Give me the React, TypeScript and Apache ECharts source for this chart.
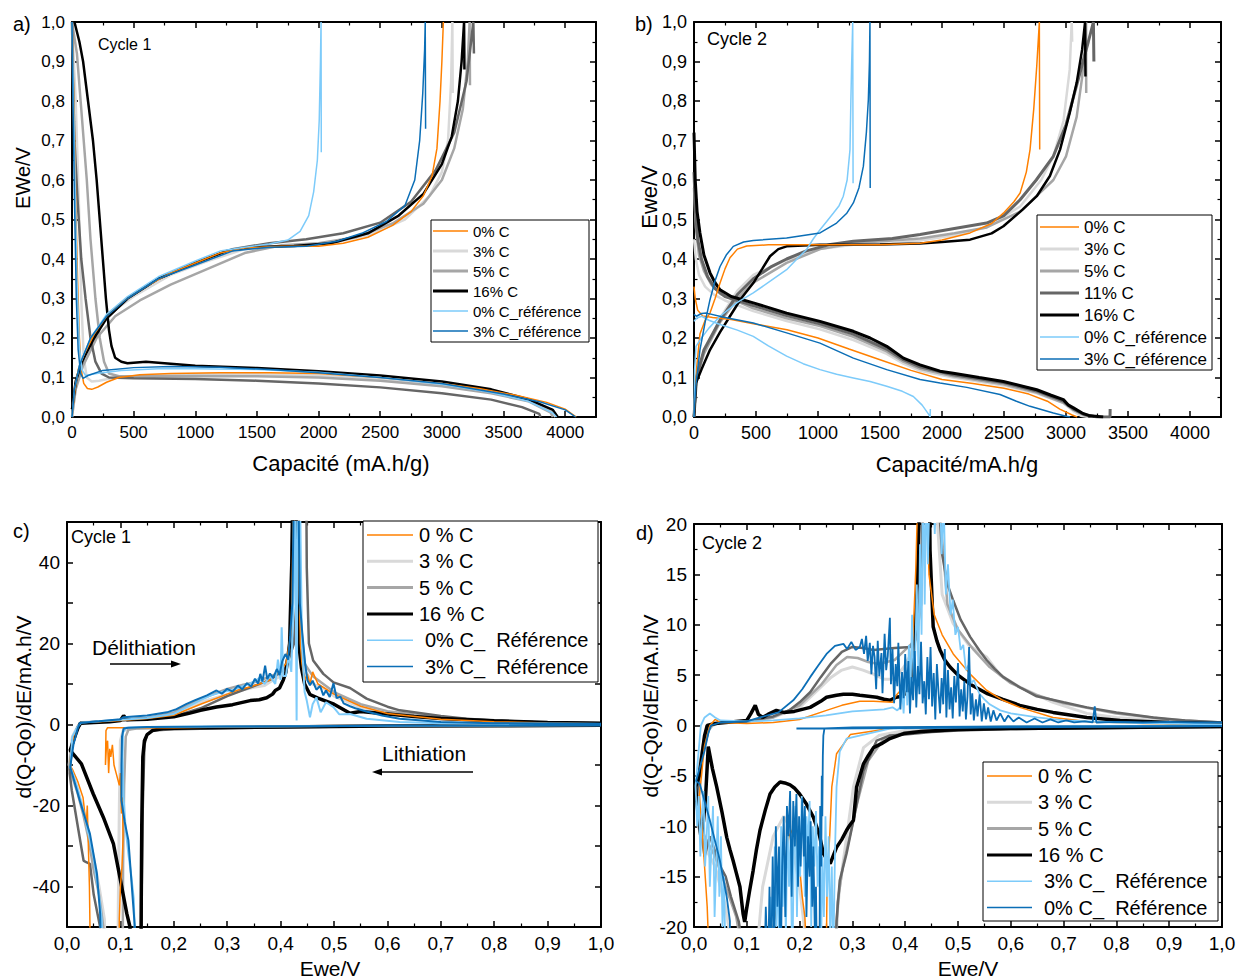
import React, { useEffect, useRef } from 'react';
import * as echarts from 'echarts';

// ---------- Panel a (Cycle 1, capacity vs potential) ----------
const aOrangeLith = [[0,1.0],[15,0.8],[30,0.55],[45,0.35],[60,0.2],[75,0.12],[95,0.085],[125,0.072],[160,0.07],[210,0.076],[280,0.088],[380,0.1],[550,0.107],[800,0.11],[1200,0.112],[1600,0.112],[2000,0.11],[2500,0.1],[3000,0.085],[3300,0.072],[3600,0.055],[3850,0.037],[4000,0.02],[4090,0.0]];
const aOrangeDel = [[0,0.0],[20,0.06],[50,0.12],[100,0.16],[180,0.21],[280,0.255],[400,0.29],[600,0.33],[800,0.365],[1000,0.39],[1200,0.415],[1400,0.428],[1700,0.432],[2000,0.432],[2200,0.44],[2400,0.455],[2600,0.485],[2750,0.52],[2850,0.56],[2920,0.61],[2960,0.68],[2985,0.8],[3000,0.9],[3012,1.0]];
const aLightGrayLith = [[0,1.0],[30,0.8],[55,0.55],[75,0.3],[95,0.15],[120,0.1],[160,0.09],[220,0.092],[350,0.1],[600,0.105],[1000,0.108],[1500,0.108],[2000,0.105],[2500,0.097],[3000,0.082],[3400,0.064],[3700,0.042],[3900,0.012],[3920,0.0]];
const aLightGrayDel = [[0,0.0],[30,0.08],[80,0.14],[180,0.21],[300,0.26],[500,0.305],[800,0.36],[1100,0.395],[1400,0.425],[1800,0.435],[2100,0.44],[2400,0.46],[2700,0.5],[2900,0.56],[3000,0.62],[3050,0.7],[3075,0.85],[3085,1.0],[3088,0.82]];
const aGrayLith = [[0,1.0],[40,0.92],[70,0.8],[120,0.6],[150,0.45],[190,0.3],[225,0.2],[260,0.14],[300,0.11],[380,0.103],[600,0.103],[1000,0.104],[1500,0.103],[2000,0.1],[2500,0.092],[3000,0.078],[3400,0.06],[3700,0.04],[3880,0.012],[3900,0.0]];
const aGrayDel = [[0,0.0],[30,0.07],[90,0.13],[200,0.2],[350,0.255],[550,0.295],[800,0.335],[1100,0.375],[1400,0.415],[1700,0.435],[2000,0.44],[2300,0.455],[2600,0.49],[2850,0.54],[3000,0.6],[3100,0.68],[3170,0.78],[3210,0.9],[3225,1.0],[3228,0.84]];
const aDarkGrayLith = [[0,1.0],[8,0.85],[20,0.7],[45,0.55],[75,0.4],[110,0.3],[150,0.2],[190,0.14],[240,0.11],[300,0.1],[500,0.098],[1000,0.096],[1500,0.092],[2000,0.085],[2500,0.075],[3000,0.06],[3400,0.044],[3650,0.025],[3790,0.008],[3800,0.0]];
const aDarkGrayDel = [[0,0.02],[40,0.1],[120,0.17],[250,0.24],[450,0.3],[700,0.35],[1000,0.39],[1300,0.425],[1600,0.44],[1900,0.45],[2200,0.465],[2500,0.492],[2750,0.545],[2950,0.625],[3100,0.72],[3200,0.85],[3255,1.0],[3260,0.92]];
const aBlackLith = [[20,1.0],[60,0.95],[90,0.9],[130,0.8],[170,0.7],[200,0.6],[225,0.5],[250,0.4],[275,0.3],[300,0.22],[320,0.18],[350,0.15],[400,0.14],[450,0.136],[600,0.14],[1000,0.13],[1500,0.124],[2000,0.116],[2500,0.105],[3000,0.09],[3400,0.07],[3700,0.045],[3900,0.018],[3940,0.0]];
const aBlackDel = [[0,0.02],[30,0.09],[80,0.14],[180,0.2],[280,0.25],[450,0.3],[700,0.35],[1000,0.39],[1250,0.42],[1450,0.43],[1800,0.433],[2100,0.44],[2400,0.465],[2650,0.51],[2850,0.565],[3000,0.64],[3080,0.71],[3130,0.8],[3160,0.9],[3180,1.0],[3183,0.88]];
const aLightBlueLith = [[0,1.0],[10,0.85],[25,0.6],[40,0.35],[60,0.18],[80,0.12],[110,0.105],[200,0.11],[400,0.118],[700,0.122],[1000,0.122],[1500,0.12],[2000,0.113],[2500,0.1],[3000,0.083],[3400,0.062],[3700,0.04],[3900,0.01],[3930,0.0]];
const aLightBlueDel = [[0,0.0],[20,0.07],[60,0.13],[150,0.2],[280,0.26],[450,0.305],[700,0.355],[1000,0.395],[1200,0.42],[1400,0.43],[1600,0.438],[1750,0.448],[1850,0.47],[1920,0.51],[1960,0.57],[1990,0.65],[2005,0.75],[2015,0.9],[2020,1.0],[2022,0.67]];
const aBlueLith = [[0,1.0],[8,0.8],[20,0.55],[35,0.3],[50,0.17],[70,0.11],[90,0.098],[130,0.105],[250,0.118],[500,0.125],[800,0.128],[1200,0.126],[1600,0.12],[2000,0.112],[2500,0.1],[3000,0.085],[3500,0.058],[3800,0.038],[4000,0.018],[4085,0.0]];
const aBlueDel = [[0,0.0],[20,0.07],[60,0.13],[150,0.2],[280,0.255],[450,0.3],[700,0.35],[1000,0.385],[1300,0.42],[1600,0.43],[1900,0.432],[2150,0.445],[2350,0.465],[2550,0.495],[2700,0.535],[2780,0.6],[2820,0.7],[2845,0.82],[2860,0.93],[2865,1.0],[2868,0.73]];

// ---------- Panel b (Cycle 2) ----------
const bOrangeLith = [[0,0.33],[10,0.3],[30,0.27],[70,0.256],[150,0.252],[300,0.247],[500,0.235],[750,0.221],[1000,0.2],[1250,0.172],[1500,0.145],[1750,0.118],[2000,0.095],[2250,0.085],[2500,0.073],[2700,0.058],[2850,0.04],[2950,0.02],[3050,0.005],[3090,0.0]];
const bOrangeDel = [[0,0.0],[20,0.12],[48,0.21],[90,0.245],[129,0.263],[170,0.3],[210,0.339],[250,0.375],[290,0.403],[350,0.425],[425,0.433],[600,0.436],[1000,0.436],[1500,0.436],[1823,0.44],[2000,0.448],[2226,0.466],[2400,0.49],[2495,0.516],[2580,0.545],[2630,0.567],[2680,0.62],[2710,0.677],[2740,0.78],[2764,0.888],[2785,1.0],[2788,0.677]];
const bLightGrayLith = [[0,0.45],[15,0.4],[40,0.36],[90,0.33],[160,0.31],[250,0.295],[478,0.268],[747,0.243],[1016,0.222],[1285,0.195],[1554,0.16],[1689,0.135],[1823,0.117],[2091,0.1],[2495,0.08],[2764,0.06],[2979,0.035],[3060,0.015],[3120,0.003],[3180,0.0]];
const bLightGrayDel = [[0,0.0],[20,0.1],[80,0.16],[210,0.25],[350,0.32],[478,0.36],[747,0.398],[1016,0.425],[1285,0.436],[1600,0.44],[1823,0.447],[2100,0.46],[2360,0.48],[2630,0.533],[2800,0.6],[2898,0.66],[2980,0.75],[3030,0.88],[3046,1.0],[3050,0.95]];
const bGrayLith = [[0,0.58],[15,0.48],[40,0.41],[80,0.37],[140,0.335],[210,0.312],[478,0.275],[747,0.25],[1016,0.23],[1285,0.203],[1554,0.166],[1689,0.14],[1823,0.122],[2091,0.103],[2495,0.083],[2764,0.062],[2979,0.036],[3060,0.018],[3150,0.004],[3220,0.0]];
const bGrayDel = [[0,0.0],[20,0.1],[80,0.16],[210,0.24],[350,0.3],[478,0.34],[747,0.39],[1016,0.425],[1285,0.44],[1600,0.447],[1823,0.452],[2100,0.465],[2360,0.48],[2630,0.52],[2898,0.6],[3000,0.66],[3086,0.76],[3130,0.86],[3158,0.95],[3162,1.0],[3163,0.82]];
const bDarkGrayLith = [[0,0.62],[12,0.52],[30,0.45],[60,0.4],[110,0.355],[170,0.325],[250,0.305],[478,0.282],[747,0.257],[1016,0.236],[1285,0.21],[1554,0.172],[1689,0.145],[1823,0.127],[2091,0.107],[2495,0.087],[2764,0.066],[2979,0.04],[3060,0.02],[3150,0.006],[3250,0.0],[3355,0.0],[3356,0.02]];
const bDarkGrayDel = [[0,0.0],[20,0.1],[80,0.17],[210,0.245],[350,0.31],[478,0.35],[620,0.38],[747,0.4],[900,0.42],[1100,0.437],[1285,0.445],[1600,0.452],[1823,0.462],[2100,0.477],[2360,0.491],[2500,0.51],[2630,0.55],[2760,0.6],[2898,0.66],[3000,0.74],[3113,0.871],[3180,0.95],[3221,1.0],[3225,0.9]];
const bBlackLith = [[0,0.72],[10,0.6],[25,0.52],[48,0.466],[80,0.41],[129,0.365],[170,0.34],[210,0.322],[300,0.305],[478,0.289],[747,0.263],[1016,0.242],[1285,0.217],[1420,0.2],[1554,0.179],[1689,0.149],[1823,0.132],[1984,0.116],[2091,0.111],[2300,0.1],[2495,0.09],[2650,0.078],[2764,0.069],[2880,0.055],[2979,0.044],[3020,0.03],[3060,0.023],[3130,0.01],[3194,0.003],[3300,0.0]];
const bBlackDel = [[0,0.0],[16,0.086],[60,0.12],[129,0.17],[210,0.215],[290,0.255],[380,0.3],[478,0.339],[550,0.375],[613,0.407],[680,0.425],[747,0.432],[1016,0.436],[1500,0.437],[1823,0.439],[2000,0.443],[2226,0.449],[2400,0.465],[2495,0.483],[2650,0.525],[2764,0.559],[2870,0.61],[2952,0.677],[3030,0.77],[3086,0.846],[3130,0.93],[3154,1.0],[3157,0.862]];
const bLightBlueLith = [[0,0.242],[20,0.25],[62,0.255],[120,0.245],[210,0.234],[350,0.22],[478,0.204],[600,0.18],[747,0.154],[880,0.135],[1016,0.12],[1150,0.108],[1285,0.099],[1420,0.09],[1554,0.078],[1680,0.065],[1769,0.052],[1840,0.03],[1890,0.008],[1904,0.0],[1906,0.02]];
const bLightBlueDel = [[0,0.0],[5,0.12],[16,0.179],[60,0.2],[120,0.225],[210,0.255],[350,0.29],[478,0.314],[620,0.345],[747,0.373],[830,0.4],[908,0.424],[960,0.45],[1016,0.474],[1070,0.495],[1123,0.516],[1170,0.535],[1204,0.559],[1235,0.6],[1258,0.677],[1265,0.8],[1271,0.888],[1280,1.0],[1283,0.592]];
const bBlueLith = [[0,0.26],[20,0.255],[60,0.262],[101,0.263],[250,0.252],[478,0.238],[747,0.213],[1016,0.187],[1285,0.149],[1554,0.12],[1823,0.095],[1984,0.086],[2200,0.075],[2468,0.057],[2600,0.04],[2710,0.027],[2898,0.01],[3000,0.002],[3033,0.0]];
const bBlueDel = [[0,0.0],[15,0.08],[48,0.17],[90,0.24],[129,0.297],[170,0.345],[210,0.381],[260,0.41],[317,0.432],[400,0.443],[478,0.447],[747,0.453],[1016,0.466],[1150,0.491],[1230,0.515],[1285,0.542],[1330,0.58],[1366,0.635],[1390,0.72],[1406,0.803],[1415,0.9],[1419,1.0],[1421,0.58]];

// ---------- Panel c (Cycle 1, dQ/dV) ----------
const cLightGray = [[1.0,-0.2],[0.5,-0.4],[0.2,-0.8],[0.12,-1],[0.105,-1.5],[0.1,-4],[0.098,-20],[0.096,-45],[0.095,-70],[0.075,-70],[0.07,-48],[0.06,-40],[0.05,-33],[0.04,-27],[0.03,-21],[0.02,-16],[0.01,-12],[0.004,-10],[0.01,-3],[0.02,-0.5],[0.027,0.5],[0.1,1],[0.15,1.5],[0.2,2.5],[0.25,5.5],[0.3,7.4],[0.33,8.6],[0.35,9.2],[0.37,9.6],[0.38,10.5],[0.4,12],[0.415,16],[0.425,60],[0.433,60],[0.437,25],[0.443,14],[0.46,10],[0.48,9],[0.5,7],[0.55,4.2],[0.6,2.8],[0.7,1.4],[0.8,0.8],[0.9,0.4],[1.0,0.2]];
const cGray = [[1.0,-0.2],[0.5,-0.4],[0.2,-0.8],[0.13,-1],[0.115,-1.3],[0.11,-3],[0.107,-15],[0.105,-35],[0.104,-70],[0.07,-70],[0.068,-50],[0.06,-42],[0.05,-36],[0.04,-28],[0.03,-22],[0.02,-17],[0.01,-13],[0.004,-11],[0.01,-4],[0.02,-1],[0.027,0.4],[0.1,1],[0.15,1.6],[0.2,3],[0.25,6.3],[0.3,8.8],[0.33,9.8],[0.35,10.4],[0.38,11.8],[0.4,13],[0.41,15],[0.42,20],[0.426,60],[0.433,60],[0.438,25],[0.445,15],[0.46,12],[0.48,10],[0.5,8],[0.55,5],[0.6,3.3],[0.7,1.7],[0.8,0.9],[0.9,0.5],[1.0,0.3]];
const cDarkGray = [[1.0,-0.2],[0.6,-0.4],[0.3,-0.9],[0.2,-1.2],[0.16,-1.5],[0.15,-2.5],[0.145,-5],[0.142,-20],[0.14,-40],[0.139,-70],[0.064,-70],[0.062,-50],[0.05,-42],[0.043,-34.4],[0.036,-34],[0.031,-33.6],[0.02,-25],[0.009,-16.3],[0.005,-12],[0.01,-4],[0.02,-1],[0.027,0.4],[0.1,1],[0.2,2],[0.25,4],[0.3,7],[0.35,9.5],[0.38,11],[0.41,14],[0.425,20],[0.432,35],[0.435,60],[0.448,60],[0.449,38.8],[0.453,20],[0.461,15.8],[0.48,12.5],[0.499,10.4],[0.53,9],[0.561,6.4],[0.6,4.4],[0.623,3.5],[0.7,2.1],[0.748,1.4],[0.8,1.0],[0.873,0.6],[1.0,0.3]];
const cBlack = [[1.0,-0.2],[0.8,-0.3],[0.6,-0.4],[0.4,-0.6],[0.25,-0.8],[0.18,-1.0],[0.16,-1.5],[0.15,-2.5],[0.145,-4],[0.142,-8],[0.14,-25],[0.139,-45],[0.138,-70],[0.12,-70],[0.118,-50],[0.112,-46.7],[0.099,-37.7],[0.087,-29.5],[0.068,-22.9],[0.049,-17.1],[0.027,-9.7],[0.006,-6.4],[0.012,-4],[0.02,-1],[0.025,0.3],[0.05,0.5],[0.08,0.7],[0.1,1.0],[0.106,2.2],[0.112,1.2],[0.15,1.3],[0.2,1.9],[0.23,2.8],[0.25,3.5],[0.28,4.3],[0.31,4.9],[0.343,5.9],[0.36,6.1],[0.374,6.6],[0.385,7.5],[0.39,8.4],[0.398,9],[0.405,11],[0.41,13],[0.417,20],[0.421,40],[0.423,60],[0.428,60],[0.431,30],[0.434,20],[0.439,14],[0.445,10],[0.455,7.4],[0.47,6.5],[0.5,5],[0.53,2.8],[0.55,3.2],[0.6,2.6],[0.65,2],[0.7,1.5],[0.8,0.9],[0.9,0.5],[1.0,0.3]];
const cOrange = [[1.0,-0.2],[0.6,-0.3],[0.3,-0.6],[0.2,-0.8],[0.12,-0.8],[0.076,-0.8],[0.073,-1.5],[0.072,-10],[0.074,-5],[0.076,-4],[0.078,-12],[0.08,-6],[0.082,-8],[0.085,-5],[0.088,-10],[0.092,-12],[0.098,-15],[0.1,-12],[0.102,-22],[0.104,-18],[0.105,-28],[0.103,-35],[0.1,-40],[0.098,-48],[0.097,-70],[0.045,-70],[0.042,-40],[0.04,-30],[0.038,-20],[0.036,-25],[0.03,-18],[0.02,-14],[0.01,-11],[0.005,-10],[0.012,-3],[0.02,-0.5],[0.027,0.5],[0.06,0.7],[0.1,1],[0.15,1.5],[0.2,2.3],[0.25,5],[0.28,6.5],[0.3,7.5],[0.32,8.5],[0.34,9.2],[0.36,10],[0.38,11],[0.4,13.5],[0.41,15],[0.415,19],[0.42,23],[0.425,60],[0.432,60],[0.437,20],[0.44,15],[0.445,11],[0.45,12.5],[0.455,10],[0.46,13],[0.47,10],[0.5,7.5],[0.55,4.5],[0.6,2.7],[0.7,1.3],[0.8,0.7],[0.9,0.4],[1.0,0.2]];
const cLightBlue = [[1.0,-0.2],[0.6,-0.3],[0.3,-0.5],[0.15,-0.6],[0.11,-0.8],[0.105,-2],[0.104,-8],[0.106,-18],[0.11,-26],[0.115,-32],[0.12,-37],[0.125,-43],[0.127,-52],[0.128,-70],[0.07,-70],[0.065,-48],[0.06,-42],[0.055,-38],[0.05,-33],[0.04,-27],[0.03,-21],[0.02,-16],[0.012,-12.5],[0.006,-10.5],[0.01,-3],[0.02,-0.5],[0.027,0.5],[0.1,1.2],[0.15,1.6],[0.2,2.6],[0.22,4],[0.25,6],[0.27,7.2],[0.29,8],[0.31,8.5],[0.33,9.5],[0.35,10.5],[0.36,11.5],[0.37,10],[0.38,12],[0.39,10],[0.395,16],[0.4,11],[0.402,24],[0.405,12],[0.41,12],[0.415,17],[0.42,13],[0.424,30],[0.427,60],[0.43,1],[0.432,60],[0.436,60],[0.44,20],[0.445,8],[0.449,5.9],[0.455,1.8],[0.46,5],[0.467,6.7],[0.475,3],[0.485,5.5],[0.499,4.3],[0.51,2.5],[0.53,2.6],[0.561,1.4],[0.623,0.6],[0.7,0.3],[1.0,0.1]];
const cBlue = [[1.0,-0.2],[0.6,-0.3],[0.3,-0.5],[0.15,-0.6],[0.115,-0.8],[0.106,-1],[0.103,-3],[0.102,-10],[0.102,-18.8],[0.108,-24],[0.115,-28.6],[0.121,-39.3],[0.127,-50],[0.13,-70],[0.066,-70],[0.062,-46.7],[0.056,-36.8],[0.043,-27],[0.024,-18.8],[0.006,-10.5],[0.012,-5],[0.02,-1],[0.024,0.4],[0.06,0.8],[0.1,1.3],[0.106,1.8],[0.15,2.2],[0.187,3],[0.205,3.8],[0.224,5.1],[0.24,6],[0.262,7.2],[0.28,8.4],[0.29,7.6],[0.3,8.8],[0.31,8.1],[0.32,9.6],[0.328,8.7],[0.337,10.2],[0.345,9.4],[0.352,11.3],[0.358,10.1],[0.362,12.5],[0.366,10.6],[0.371,14.5],[0.375,11.2],[0.38,12.6],[0.386,11.5],[0.393,13.7],[0.398,12.2],[0.403,15.6],[0.409,17.4],[0.414,16],[0.418,22],[0.422,30],[0.425,60],[0.433,60],[0.436,30],[0.441,22],[0.446,15],[0.45,11],[0.455,9.7],[0.46,10.8],[0.467,8.6],[0.474,9.5],[0.48,7.2],[0.485,8.4],[0.492,6.8],[0.499,10.2],[0.505,6.5],[0.512,6.9],[0.518,5.2],[0.53,4.5],[0.54,4],[0.561,3.2],[0.59,2.2],[0.623,1.4],[0.7,0.6],[0.8,0.3],[1.0,0.2]];

// ---------- Panel d (Cycle 2, dQ/dV) ----------
const dLightGray = [[1.0,-0.1],[0.6,-0.2],[0.45,-0.3],[0.4,-0.5],[0.35,-1],[0.321,-2.2],[0.302,-6.1],[0.289,-11.1],[0.276,-16],[0.27,-19.4],[0.268,-25],[0.22,-25],[0.2,-16],[0.18,-10],[0.17,-9],[0.15,-11],[0.13,-16],[0.115,-25],[0.08,-25],[0.06,-18],[0.04,-14],[0.02,-12],[0.008,-10],[0.015,-3],[0.03,0],[0.05,0.3],[0.1,0.35],[0.15,0.8],[0.2,1.8],[0.24,3.8],[0.26,4.8],[0.28,5.5],[0.3,5.8],[0.32,5.5],[0.34,5.1],[0.36,4.6],[0.38,4.6],[0.4,6],[0.41,7],[0.42,8.5],[0.43,12],[0.435,25],[0.455,25],[0.47,13],[0.491,10.1],[0.52,8],[0.554,6.8],[0.58,5],[0.617,3.8],[0.68,2.3],[0.744,1.2],[0.8,0.8],[0.9,0.4],[1.0,0.2]];
const dGray = [[1.0,-0.1],[0.6,-0.2],[0.45,-0.4],[0.4,-0.7],[0.36,-1.3],[0.33,-3.5],[0.31,-7.5],[0.295,-11],[0.282,-14],[0.272,-17.5],[0.268,-25],[0.1,-25],[0.08,-19],[0.06,-16],[0.04,-13],[0.02,-11],[0.008,-9],[0.01,-4],[0.02,-1],[0.035,0],[0.05,0.3],[0.1,0.4],[0.15,0.8],[0.2,2],[0.24,4],[0.27,6],[0.29,6.8],[0.31,6.7],[0.33,6.3],[0.35,6.1],[0.38,6.5],[0.4,7.5],[0.42,8.5],[0.43,12],[0.435,25],[0.46,25],[0.48,12],[0.5,9.5],[0.53,7.5],[0.56,5.8],[0.6,4.2],[0.65,3],[0.7,2.2],[0.8,1.2],[0.9,0.6],[1.0,0.3]];
const dDarkGray = [[1.0,-0.15],[0.8,-0.25],[0.6,-0.35],[0.5,-0.5],[0.45,-0.65],[0.4,-0.9],[0.37,-1],[0.346,-1.5],[0.321,-4.5],[0.302,-9.4],[0.289,-12.7],[0.276,-15.4],[0.27,-19.4],[0.266,-25],[0.1,-25],[0.085,-19.5],[0.07,-17],[0.06,-15],[0.05,-14],[0.04,-12.5],[0.03,-11],[0.02,-13],[0.012,-10],[0.005,-7],[0.015,-3],[0.03,0],[0.05,0.3],[0.1,0.4],[0.15,0.9],[0.18,1.5],[0.2,2.3],[0.22,3.3],[0.24,4.8],[0.26,6.2],[0.28,7.3],[0.3,7.8],[0.32,7.7],[0.34,7.5],[0.36,7.6],[0.38,7.7],[0.41,7.8],[0.42,9.1],[0.43,14],[0.435,25],[0.46,25],[0.47,17],[0.48,14],[0.491,12.4],[0.505,10.5],[0.523,8.8],[0.54,7.5],[0.554,6.5],[0.57,5.6],[0.586,4.8],[0.62,3.7],[0.649,2.9],[0.7,2.3],[0.744,1.8],[0.8,1.3],[0.87,0.8],[0.93,0.5],[1.0,0.3]];
const dBlack = [[1.0,-0.1],[0.9,-0.15],[0.8,-0.2],[0.7,-0.25],[0.6,-0.3],[0.5,-0.4],[0.466,-0.5],[0.43,-0.6],[0.397,-0.8],[0.371,-1.3],[0.355,-1.8],[0.34,-2.2],[0.33,-3],[0.321,-3.8],[0.308,-6.1],[0.302,-9.4],[0.295,-9.9],[0.289,-10.4],[0.28,-11.3],[0.27,-12.1],[0.264,-12.9],[0.258,-13.7],[0.251,-13.2],[0.245,-12.7],[0.238,-11],[0.232,-10],[0.226,-9.1],[0.213,-7.8],[0.2,-6.8],[0.19,-6.2],[0.182,-5.9],[0.172,-5.7],[0.163,-5.6],[0.153,-6.1],[0.144,-6.8],[0.135,-8.4],[0.125,-10.4],[0.118,-12.4],[0.112,-14.4],[0.105,-16.5],[0.099,-18.4],[0.096,-19.5],[0.093,-18.7],[0.087,-16],[0.08,-14.6],[0.074,-13.4],[0.068,-12.3],[0.062,-11.1],[0.053,-8.6],[0.043,-6.1],[0.035,-4.3],[0.027,-2.1],[0.022,-7],[0.018,-9.5],[0.013,-11],[0.008,-9],[0.003,-6.1],[0.01,-5],[0.02,-1],[0.025,0],[0.04,0.2],[0.06,0.3],[0.1,0.5],[0.108,1.2],[0.116,2],[0.122,1.1],[0.13,0.8],[0.14,1.1],[0.156,1.5],[0.17,1.3],[0.19,1.4],[0.22,1.8],[0.24,2.4],[0.251,2.8],[0.27,3],[0.283,3.1],[0.3,3.1],[0.314,3],[0.33,2.9],[0.346,2.8],[0.36,2.6],[0.371,2.5],[0.383,2.8],[0.395,2.9],[0.405,3.5],[0.412,5],[0.418,9],[0.423,14],[0.426,20],[0.43,30],[0.445,30],[0.447,17.4],[0.453,9.8],[0.46,8.4],[0.466,7.5],[0.475,6.5],[0.485,5.8],[0.5,5],[0.523,4.1],[0.554,3.2],[0.585,2.6],[0.617,2],[0.65,1.6],[0.68,1.3],[0.744,0.8],[0.807,0.5],[0.9,0.3],[1.0,0.2]];
const dOrange = [[1.0,-0.05],[0.6,-0.1],[0.4,-0.2],[0.371,-0.3],[0.296,-0.9],[0.27,-2.8],[0.261,-6.1],[0.257,-11],[0.255,-12.7],[0.252,-16],[0.25,-25],[0.215,-25],[0.21,-19],[0.205,-17],[0.2,-14],[0.195,-12],[0.19,-10],[0.18,-11],[0.17,-14],[0.16,-17],[0.15,-20],[0.14,-25],[0.03,-25],[0.025,-18],[0.02,-14],[0.015,-10],[0.01,-7],[0.02,-2],[0.03,0],[0.04,0.6],[0.05,0.3],[0.1,0.2],[0.15,0.3],[0.2,0.6],[0.251,1.5],[0.28,2],[0.314,2.4],[0.34,2.4],[0.376,2.3],[0.383,3],[0.4,4],[0.41,6],[0.415,9],[0.42,15.4],[0.425,25],[0.44,25],[0.445,15],[0.455,11],[0.47,9],[0.491,7.1],[0.523,5.1],[0.554,3.5],[0.585,2.5],[0.617,1.8],[0.68,0.8],[0.744,0.4],[0.85,0.2],[1.0,0.1]];
const dLightBlue = [[1.0,-0.05],[0.6,-0.1],[0.371,-0.3],[0.289,-1.3],[0.276,-2.6],[0.27,-6.1],[0.267,-12.7],[0.265,-19.3],[0.264,-25],[0.261,-14],[0.258,-21],[0.255,-11],[0.252,-17],[0.249,-9],[0.246,-19],[0.243,-13],[0.24,-25],[0.237,-12],[0.234,-16],[0.231,-8.5],[0.228,-14],[0.225,-10],[0.222,-20],[0.219,-7.5],[0.216,-12],[0.213,-9],[0.21,-17],[0.207,-11],[0.204,-7],[0.201,-15],[0.198,-10],[0.195,-19],[0.192,-8],[0.189,-13],[0.186,-25],[0.183,-11],[0.18,-16],[0.177,-9],[0.174,-21],[0.171,-12],[0.168,-18],[0.165,-10],[0.162,-25],[0.159,-14],[0.156,-20],[0.153,-12],[0.15,-25],[0.145,-17],[0.14,-25],[0.06,-25],[0.057,-15],[0.054,-20],[0.051,-11],[0.048,-17],[0.045,-9],[0.042,-14],[0.039,-19],[0.036,-8],[0.033,-12],[0.03,-16],[0.027,-7],[0.024,-11],[0.021,-14],[0.018,-6.5],[0.015,-9],[0.012,-13],[0.009,-7],[0.006,-10],[0.003,-6],[0.008,-3],[0.013,0],[0.02,0.8],[0.03,1.2],[0.04,0.8],[0.05,0.5],[0.1,0.4],[0.15,0.5],[0.2,0.7],[0.25,1],[0.3,1.4],[0.33,1.5],[0.36,1.6],[0.376,1.8],[0.385,1.5],[0.39,1.8],[0.394,3.5],[0.397,1.2],[0.401,5.5],[0.404,2],[0.407,8],[0.41,3],[0.413,11],[0.416,4],[0.419,7],[0.422,14],[0.425,5],[0.428,18],[0.431,9],[0.434,25],[0.437,12],[0.44,25],[0.443,16],[0.447,25],[0.452,25],[0.456,19],[0.46,25],[0.465,25],[0.469,17],[0.473,22],[0.477,13],[0.481,16],[0.486,11],[0.49,12.5],[0.495,9],[0.5,9.8],[0.505,7.5],[0.51,8],[0.515,5.5],[0.52,6],[0.525,4.2],[0.53,4.5],[0.54,3.2],[0.55,2.6],[0.56,2.1],[0.58,1.5],[0.6,1.2],[0.65,0.8],[0.7,0.5],[0.8,0.3],[1.0,0.1]];
const dBlue = [[0.194,-0.3],[0.245,-0.3],[1.0,-0.05],[0.6,-0.1],[0.3,-0.2],[0.247,-0.3],[0.245,-1],[0.244,-3],[0.243,-9],[0.242,-5],[0.241,-14],[0.239,-8],[0.238,-20],[0.236,-25],[0.233,-25],[0.231,-16],[0.229,-21],[0.226,-12],[0.224,-18],[0.221,-9.5],[0.219,-15],[0.216,-11],[0.213,-19],[0.21,-8],[0.208,-13],[0.205,-7.2],[0.202,-14],[0.199,-9],[0.197,-16],[0.194,-6.8],[0.191,-12],[0.188,-7.5],[0.185,-17],[0.182,-6.5],[0.179,-11],[0.176,-8],[0.173,-19],[0.17,-9],[0.167,-14],[0.164,-25],[0.161,-12],[0.158,-18],[0.155,-10],[0.152,-22],[0.149,-13],[0.146,-25],[0.143,-16],[0.14,-25],[0.136,-18],[0.133,-25],[0.128,-20],[0.124,-25],[0.118,-22],[0.112,-25],[0.106,-21],[0.1,-25],[0.068,-25],[0.068,-19.4],[0.062,-17],[0.049,-13.4],[0.03,-9.4],[0.011,-5.8],[0.004,-5.5],[0.012,-4],[0.02,-2.5],[0.027,-0.8],[0.032,0],[0.05,0.3],[0.1,0.4],[0.125,0.8],[0.16,1.3],[0.188,2.5],[0.205,3.6],[0.22,4.8],[0.236,6],[0.251,7.1],[0.267,7.9],[0.283,8.1],[0.29,7.6],[0.298,8.3],[0.306,7.5],[0.314,7.8],[0.318,8.6],[0.322,7.1],[0.326,8.9],[0.329,6.4],[0.333,8.2],[0.336,5.1],[0.339,7.9],[0.342,6.8],[0.345,3.6],[0.348,8.4],[0.351,4.9],[0.355,7.2],[0.357,3.2],[0.361,9.1],[0.364,5.5],[0.367,6.9],[0.371,10.7],[0.373,4.1],[0.376,7.6],[0.379,2.2],[0.382,6.1],[0.385,3.9],[0.387,8.2],[0.391,1.6],[0.394,5.3],[0.397,2.7],[0.4,7.1],[0.403,3.3],[0.406,6.4],[0.409,1.2],[0.412,4.8],[0.415,2.5],[0.418,7.4],[0.421,1.8],[0.424,5.9],[0.427,3.1],[0.43,8.3],[0.433,2.2],[0.436,4.4],[0.439,1.1],[0.442,6.8],[0.445,2.6],[0.448,7.8],[0.451,1.9],[0.454,5.2],[0.457,0.6],[0.46,6.1],[0.463,3.4],[0.466,1.2],[0.469,4.7],[0.472,2.1],[0.475,7.6],[0.478,0.8],[0.481,5.5],[0.484,1.6],[0.487,3.8],[0.49,0.7],[0.493,4.9],[0.496,2.3],[0.5,6.2],[0.503,0.9],[0.506,3.6],[0.509,1.4],[0.512,4.4],[0.515,0.6],[0.518,2.9],[0.521,7.8],[0.524,1.1],[0.527,3.2],[0.53,0.5],[0.534,2.6],[0.537,0.9],[0.541,3.1],[0.545,0.4],[0.549,2.2],[0.553,0.6],[0.557,1.8],[0.562,0.4],[0.567,1.5],[0.573,0.5],[0.58,1.2],[0.588,0.4],[0.595,1.0],[0.605,0.4],[0.615,0.8],[0.63,0.3],[0.645,0.7],[0.66,0.3],[0.675,0.6],[0.69,0.3],[0.705,0.5],[0.72,0.3],[0.74,0.4],[0.755,0.3],[0.759,1.9],[0.762,0.3],[0.8,0.35],[0.85,0.3],[0.9,0.35],[0.95,0.3],[1.0,0.3]];

// ---------- labels ----------
const legendA = ['0% C', '3% C', '5% C', '16% C', '0% C_référence', '3% C_référence'];
const legendB = ['0% C', '3% C', '5% C', '11% C', '16% C', '0% C_référence', '3% C_référence'];
const legendC = ['0 % C', '3 % C', '5 % C', '16 % C', ' 0% C_  Référence', ' 3% C_  Référence'];
const legendD = ['0 % C', '3 % C', '5 % C', '16 % C', ' 3% C_  Référence', ' 0% C_  Référence'];

const FONT = 'Liberation Sans, Arial, Helvetica, sans-serif';
const ORANGE = '#FF8000';
const LGRAY = '#D9D9D9';
const GRAY = '#A6A6A6';
const DGRAY = '#666666';
const BLACK = '#000000';
const LBLUE = '#7DCBFA';
const BLUE = '#0B6EB6';

const comma1 = (v: number) => v.toFixed(1).replace('.', ',');

function axisBase(grid: number, min: number, max: number, interval: number, minor: boolean) {
  return {
    type: 'value', gridIndex: grid, min, max, interval,
    axisLine: { show: true, onZero: false, lineStyle: { color: '#000', width: 2 } },
    axisTick: { show: true, inside: true, length: 6, lineStyle: { color: '#000', width: 1.5 } },
    minorTick: { show: minor, splitNumber: 2, length: 3.5, lineStyle: { color: '#000', width: 1.2 } },
    splitLine: { show: false }, minorSplitLine: { show: false },
  };
}
function xAxes(grid: number, min: number, max: number, interval: number, fmt: any, fs: number, minor: boolean) {
  const base: any = axisBase(grid, min, max, interval, minor);
  return [
    { ...base, position: 'bottom', axisLabel: { show: true, color: '#000', fontSize: fs, fontFamily: FONT, margin: 7, formatter: fmt } },
    { ...base, position: 'top', axisLabel: { show: false } },
  ];
}
function yAxes(grid: number, min: number, max: number, interval: number, fmt: any, fs: number, minor: boolean) {
  const base: any = axisBase(grid, min, max, interval, minor);
  return [
    { ...base, position: 'left', axisLabel: { show: true, color: '#000', fontSize: fs, fontFamily: FONT, margin: 7, formatter: fmt } },
    { ...base, position: 'right', axisLabel: { show: false } },
  ];
}

function ser(name: string, data: number[][], color: string, width: number, panel: number, z = 2) {
  return {
    name, type: 'line', data, xAxisIndex: panel * 2, yAxisIndex: panel * 2,
    showSymbol: false, symbol: 'none', clip: true, silent: true, z,
    lineStyle: { color, width }, itemStyle: { color },
  };
}

function txt(text: string, x: number, y: number, fs: number, align = 'left', rot = 0) {
  return {
    type: 'text', x, y, rotation: rot, z: 100,
    style: { text, fill: '#000', fontSize: fs, fontFamily: FONT, textAlign: align, textVerticalAlign: 'middle', verticalAlign: 'middle' },
  };
}

function legendBox(box: number[], names: string[], colors: string[], widths: number[], y0: number, gap: number, lx1: number, lx2: number, tx: number, fs: number) {
  const els: any[] = [{ type: 'rect', z: 99, shape: { x: box[0], y: box[1], width: box[2], height: box[3] }, style: { fill: '#fff', stroke: '#000', lineWidth: 1 } }];
  names.forEach((n, i) => {
    const y = y0 + i * gap;
    els.push({ type: 'line', z: 100, shape: { x1: lx1, y1: y, x2: lx2, y2: y }, style: { stroke: colors[i], lineWidth: widths[i] } });
    els.push(txt(n.trim(), tx + (n.startsWith(' ') ? 6 : 0), y, fs));
  });
  return els;
}

export default function App() {
  const ref = useRef<HTMLDivElement>(null);
  useEffect(() => {
    if (!ref.current) return;
    const chart = echarts.init(ref.current, undefined, { renderer: 'svg' });
    const capFmt = (v: number) => (Math.round(v) % 500 === 0 ? String(Math.round(v)) : '');
    const cFmt = (v: number) => (Math.round(v) % 20 === 0 ? String(Math.round(v)) : '');
    const dFmt = (v: number) => String(Math.round(v));

    const option: any = {
      animation: false,
      backgroundColor: '#fff',
      textStyle: { fontFamily: FONT },
      grid: [
        { left: 72, top: 22, width: 524, height: 395, outerBoundsMode: 'none' },
        { left: 694, top: 22, width: 527, height: 395, outerBoundsMode: 'none' },
        { left: 67, top: 522, width: 534, height: 405, outerBoundsMode: 'none' },
        { left: 694, top: 524, width: 528, height: 403, outerBoundsMode: 'none' },
      ],
      xAxis: [
        ...xAxes(0, 0, 4250, 500, capFmt, 17, true),
        ...xAxes(1, 0, 4250, 500, capFmt, 18, true),
        ...xAxes(2, 0, 1, 0.1, comma1, 19, true),
        ...xAxes(3, 0, 1, 0.1, comma1, 19, true),
      ],
      yAxis: [
        ...yAxes(0, 0, 1, 0.1, comma1, 17, true),
        ...yAxes(1, 0, 1, 0.1, comma1, 18, true),
        ...yAxes(2, -50, 50, 10, cFmt, 19, false),
        ...yAxes(3, -20, 20, 5, dFmt, 19, true),
      ],
      series: [
        ser('3% C', aLightGrayLith, LGRAY, 2.5, 0), ser('3% C', aLightGrayDel, LGRAY, 2.5, 0),
        ser('5% C', aGrayLith, GRAY, 2.5, 0), ser('5% C', aGrayDel, GRAY, 2.5, 0),
        ser('11% C', aDarkGrayLith, DGRAY, 2.5, 0), ser('11% C', aDarkGrayDel, DGRAY, 2.5, 0),
        ser('16% C', aBlackLith, BLACK, 2.5, 0, 3), ser('16% C', aBlackDel, BLACK, 2.5, 0, 3),
        ser('0% C', aOrangeLith, ORANGE, 1.5, 0, 4), ser('0% C', aOrangeDel, ORANGE, 1.5, 0, 4),
        ser('0% C_référence', aLightBlueLith, LBLUE, 1.5, 0, 4), ser('0% C_référence', aLightBlueDel, LBLUE, 1.5, 0, 4),
        ser('3% C_référence', aBlueLith, BLUE, 1.5, 0, 4), ser('3% C_référence', aBlueDel, BLUE, 1.5, 0, 4),

        ser('3% C', bLightGrayLith, LGRAY, 2.5, 1), ser('3% C', bLightGrayDel, LGRAY, 2.5, 1),
        ser('5% C', bGrayLith, GRAY, 2.5, 1), ser('5% C', bGrayDel, GRAY, 2.5, 1),
        ser('11% C', bDarkGrayLith, DGRAY, 3, 1), ser('11% C', bDarkGrayDel, DGRAY, 3, 1),
        ser('16% C', bBlackLith, BLACK, 3, 1, 3), ser('16% C', bBlackDel, BLACK, 2.5, 1, 3),
        ser('0% C', bOrangeLith, ORANGE, 1.5, 1, 4), ser('0% C', bOrangeDel, ORANGE, 1.5, 1, 4),
        ser('0% C_référence', bLightBlueLith, LBLUE, 1.5, 1, 4), ser('0% C_référence', bLightBlueDel, LBLUE, 1.5, 1, 4),
        ser('3% C_référence', bBlueLith, BLUE, 1.5, 1, 4), ser('3% C_référence', bBlueDel, BLUE, 1.5, 1, 4),

        ser('3 % C', cLightGray, LGRAY, 3, 2),
        ser('5 % C', cGray, GRAY, 2.5, 2),
        ser('11 % C', cDarkGray, DGRAY, 2.5, 2),
        ser('16 % C', cBlack, BLACK, 3.5, 2, 3),
        ser('0 % C', cOrange, ORANGE, 1.5, 2, 4),
        ser(' 0% C_  Référence', cLightBlue, LBLUE, 2, 2, 4),
        ser(' 3% C_  Référence', cBlue, BLUE, 2, 2, 5),

        ser('3 % C', dLightGray, LGRAY, 3, 3),
        ser('5 % C', dGray, GRAY, 2.5, 3),
        ser('11 % C', dDarkGray, DGRAY, 2.5, 3),
        ser('16 % C', dBlack, BLACK, 3.5, 3, 3),
        ser('0 % C', dOrange, ORANGE, 1.5, 3, 4),
        ser(' 3% C_  Référence', dLightBlue, LBLUE, 1.8, 3, 4),
        ser(' 0% C_  Référence', dBlue, BLUE, 1.8, 3, 5),
      ],
      graphic: [
        txt('a)', 13, 24, 20), txt('b)', 635, 24, 20), txt('c)', 13, 531, 20), txt('d)', 636, 533, 20),
        txt('Cycle 1', 98, 44, 16), txt('Cycle 2', 707, 39, 18), txt('Cycle 1', 71, 537, 18), txt('Cycle 2', 702, 543, 18),
        txt('EWe/V', 23, 178, 20, 'center', Math.PI / 2),
        txt('Capacité (mA.h/g)', 341, 463, 22, 'center'),
        txt('Ewe/V', 649, 197, 22, 'center', Math.PI / 2),
        txt('Capacité/mA.h/g', 957, 464, 22, 'center'),
        txt('d(Q-Qo)/dE/mA.h/V', 23, 707, 21, 'center', Math.PI / 2),
        txt('Ewe/V', 330, 968, 21, 'center'),
        txt('d(Q-Qo)/dE/mA.h/V', 650, 706, 21, 'center', Math.PI / 2),
        txt('Ewe/V', 968, 968, 21, 'center'),
        txt('Délithiation', 92, 647, 21),
        { type: 'line', z: 100, shape: { x1: 110, y1: 664, x2: 174, y2: 664 }, style: { stroke: '#000', lineWidth: 1.5 } },
        { type: 'polygon', z: 100, shape: { points: [[181, 664], [171, 660.5], [171, 667.5]] }, style: { fill: '#000' } },
        txt('Lithiation', 382, 753, 21),
        { type: 'line', z: 100, shape: { x1: 473, y1: 772, x2: 379, y2: 772 }, style: { stroke: '#000', lineWidth: 1.5 } },
        { type: 'polygon', z: 100, shape: { points: [[372, 772], [382, 768.5], [382, 775.5]] }, style: { fill: '#000' } },
        ...legendBox([431, 220, 158, 122], legendA, [ORANGE, LGRAY, GRAY, BLACK, LBLUE, BLUE], [1.5, 3, 3, 3, 1.5, 1.5], 231, 20, 433, 468, 473, 15),
        ...legendBox([1037, 215, 175, 155], legendB, [ORANGE, LGRAY, GRAY, DGRAY, BLACK, LBLUE, BLUE], [1.5, 3, 3, 3, 3, 1.5, 1.5], 227, 22, 1040, 1079, 1084, 17),
        ...legendBox([363, 521, 235, 161], legendC, [ORANGE, LGRAY, GRAY, BLACK, LBLUE, BLUE], [1.5, 3, 3, 3, 1.5, 1.5], 535, 26.3, 367, 413, 419, 20),
        ...legendBox([983, 762, 235, 159], legendD, [ORANGE, LGRAY, GRAY, BLACK, LBLUE, BLUE], [1.5, 3, 3, 3, 1.5, 1.5], 776, 26.3, 987, 1032, 1038, 20),
      ],
    };
    chart.setOption(option);
    return () => chart.dispose();
  }, []);
  return <div ref={ref} style={{ position: 'absolute', left: 0, top: 0, width: 1238, height: 979 }} />;
}
